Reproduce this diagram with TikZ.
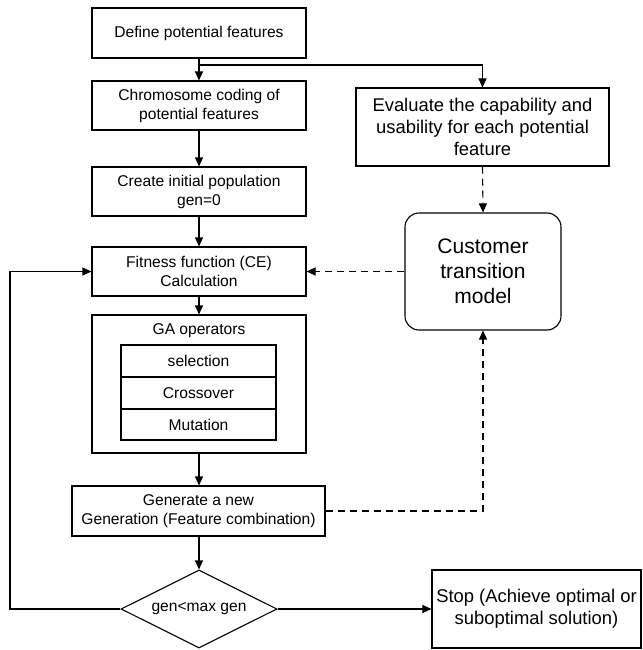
\documentclass[tikz,border=0pt]{standalone}
\usepackage{fontspec}
\setmainfont{Liberation Sans}
\usetikzlibrary{arrows.meta,shapes.geometric}
\begin{document}
\begin{tikzpicture}[x=1pt,y=-1pt,
  line width=1.1pt,
  font=\fontsize{15.6}{19}\selectfont,
  box/.style={draw, rectangle, inner sep=0pt, align=center},
  bigtext/.style={font=\fontsize{18.4}{22.3}\selectfont},
  arr/.style={-{Triangle[length=9pt,width=8pt]}},
  dsh/.style={dash pattern=on 7pt off 5pt}]
\useasboundingbox (0,0) rectangle (642,650);
\node[box, minimum width=214pt, minimum height=50pt] (def) at (199,33) {Define potential features};
\node[box, minimum width=214pt, minimum height=49pt] (chrom) at (199,105.5) {Chromosome coding of\\potential features};
\node[box, minimum width=214pt, minimum height=49pt] (create) at (199,191.5) {Create initial population\\gen=0};
\node[box, minimum width=214pt, minimum height=49pt] (fit) at (199,271.5) {Fitness function (CE)\\Calculation};
\node[box, minimum width=214pt, minimum height=138pt] (ga) at (199,384) {};
\node (galabel) at (199,331) {GA operators};
\node[box, minimum width=155pt, minimum height=32pt] (sel) at (198.5,361) {selection};
\node[box, minimum width=155pt, minimum height=32pt] (cross) at (198.5,393) {Crossover};
\node[box, minimum width=155pt, minimum height=31pt] (mut) at (198.5,424.5) {Mutation};
\node[box, minimum width=253pt, minimum height=50pt] (gen) at (198.5,511) {Generate a new\\Generation (Feature combination)};
\node[draw, diamond, shape aspect=2, inner sep=0pt, minimum width=156pt, minimum height=78pt] (dia) at (199,609) {gen<max gen};
\node[box, bigtext, minimum width=209pt, minimum height=78pt] (stop) at (536.5,609) {Stop (Achieve optimal or\\suboptimal solution)};
\node[box, bigtext, minimum width=253pt, minimum height=78pt] (eval) at (482.5,127) {Evaluate the capability and\\usability for each potential\\feature};
\node[box, rounded corners=14pt, minimum width=156pt, minimum height=117pt, font=\fontsize{21}{25}\selectfont] (cust) at (483,271.5) {Customer\\transition\\model};
\coordinate (br) at (199,65);
\coordinate (loop) at (10,609);
\draw[arr] (def.south) -- (chrom.north);
\draw[arr] (br) -| (eval.north);
\draw[arr] (chrom.south) -- (create.north);
\draw[arr] (create.south) -- (fit.north);
\draw[arr] (fit.south) -- (ga.north);
\draw[arr] (ga.south) -- (ga.south |- gen.north);
\draw[arr] (dia.north |- gen.south) -- (dia.north);
\draw[arr] (dia.east) -- (stop.west);
\draw[arr] (dia.west) -- (loop) |- (fit.west);
\draw[arr, dsh] (eval.south) -- (cust.north);
\draw[arr, dsh] (cust.west) -- (fit.east);
\draw[arr, dsh] (gen.east) -| (cust.south);
\end{tikzpicture}
\end{document}
